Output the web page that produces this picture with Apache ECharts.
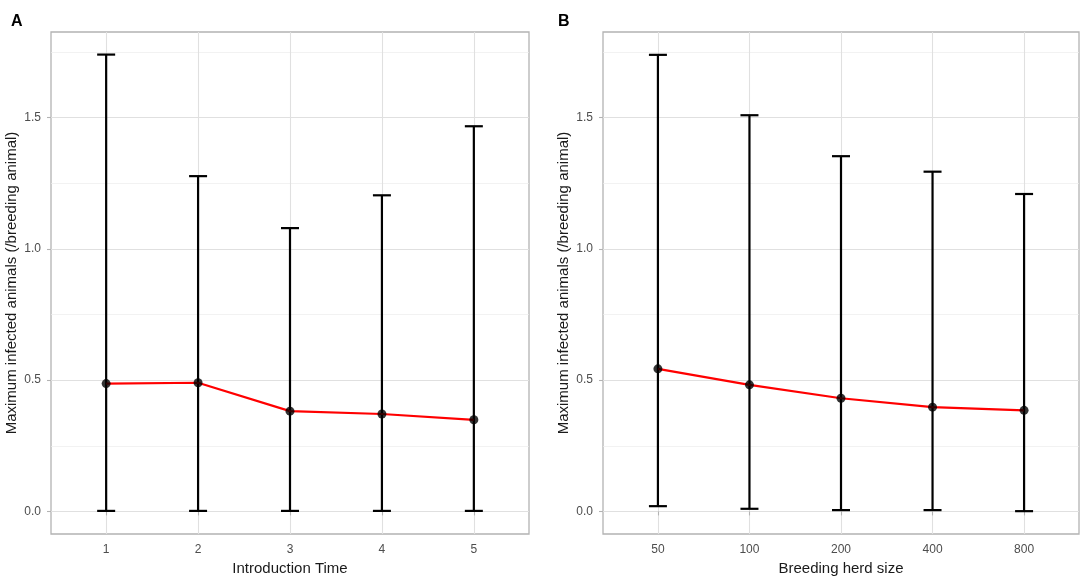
<!DOCTYPE html>
<html>
<head>
<meta charset="utf-8">
<script src="https://cdn.jsdelivr.net/npm/echarts@6/dist/echarts.min.js"></script>
<style>
html,body{margin:0;padding:0;background:#fff;}
#chart{width:1084px;height:582px;}
</style>
</head>
<body>
<div id="chart"></div>
<script>
// ---- data ----
const timeCats  = ['1', '2', '3', '4', '5'];
const timeMean  = [0.487, 0.490, 0.382, 0.371, 0.349];
const timeLower = [0.002, 0.002, 0.002, 0.002, 0.002];
const timeUpper = [1.740, 1.277, 1.079, 1.204, 1.467];

const herdCats  = ['50', '100', '200', '400', '800'];
const herdMean  = [0.543, 0.482, 0.431, 0.397, 0.385];
const herdLower = [0.020, 0.010, 0.005, 0.005, 0.001];
const herdUpper = [1.739, 1.509, 1.353, 1.294, 1.209];

const yMajorTicks = [0, 0.5, 1.0, 1.5];
const yMinorTicks = [0.25, 0.75, 1.25, 1.75];
const panelLabels = ['A', 'B'];
const xTitles = ['Introduction Time', 'Breeding herd size'];
const yTitle = 'Maximum infected animals (/breeding animal)';

// ---- styling ----
const FONT = 'Liberation Sans, Arial, sans-serif';
const Y_MIN = -0.086, Y_MAX = 1.826;
const X_MIN = 0.4, X_MAX = 5.6;
const gridColor = '#e0e0e0';
const borderColor = '#b3b3b3';

const grids = [
  {left: 51, top: 32, width: 478, height: 502},
  {left: 603, top: 32, width: 476, height: 502}
];

function xAxisFor(gi, cats) {
  return {
    type: 'value', gridIndex: gi, min: X_MIN, max: X_MAX, position: 'bottom',
    name: xTitles[gi], nameLocation: 'middle', nameGap: 27,
    nameTextStyle: {fontFamily: FONT, fontSize: 15, color: '#1a1a1a'},
    axisLine: {show: false},
    axisTick: {show: true, length: 4, customValues: cats.map((c, i) => i + 1),
               lineStyle: {color: borderColor, width: 1.1}},
    axisLabel: {show: true, margin: 10, customValues: cats.map((c, i) => i + 1),
                fontFamily: FONT, fontSize: 12, color: '#4d4d4d',
                formatter: v => cats[Math.round(v) - 1]},
    splitLine: {show: true, lineStyle: {color: gridColor, width: 1.1}}
  };
}
function yAxisMajor(gi) {
  return {
    type: 'value', gridIndex: gi, min: Y_MIN, max: Y_MAX, position: 'left',
    name: yTitle, nameLocation: 'middle', nameGap: 32, nameRotate: 90,
    nameTextStyle: {fontFamily: FONT, fontSize: 15, color: '#1a1a1a'},
    axisLine: {show: false},
    axisTick: {show: true, length: 4, customValues: yMajorTicks,
               lineStyle: {color: borderColor, width: 1.1}},
    axisLabel: {show: true, margin: 10, customValues: yMajorTicks,
                fontFamily: FONT, fontSize: 12, color: '#4d4d4d',
                formatter: v => v.toFixed(1)},
    splitLine: {show: true, lineStyle: {color: gridColor, width: 1.1}}
  };
}
function yAxisMinor(gi) {
  return {
    type: 'value', gridIndex: gi, min: Y_MIN, max: Y_MAX, position: 'left',
    axisLine: {show: false},
    axisTick: {show: false, customValues: yMinorTicks},
    axisLabel: {show: false, customValues: yMinorTicks},
    splitLine: {show: true, lineStyle: {color: '#ececec', width: 0.7}}
  };
}

function errorBarSeries(xi, yi, lower, upper) {
  return {
    type: 'custom', xAxisIndex: xi, yAxisIndex: yi, z: 2,
    data: lower.map((lo, i) => [i + 1, lo, upper[i]]),
    renderItem: function (params, api) {
      const x = api.value(0);
      const pLo = api.coord([x, api.value(1)]);
      const pHi = api.coord([x, api.value(2)]);
      const hw = 9;
      const st = {stroke: '#000', lineWidth: 2.2};
      return {type: 'group', children: [
        {type: 'line', shape: {x1: pLo[0], y1: pLo[1], x2: pHi[0], y2: pHi[1]}, style: st},
        {type: 'line', shape: {x1: pLo[0] - hw, y1: pLo[1], x2: pLo[0] + hw, y2: pLo[1]}, style: st},
        {type: 'line', shape: {x1: pHi[0] - hw, y1: pHi[1], x2: pHi[0] + hw, y2: pHi[1]}, style: st}
      ]};
    }
  };
}
function meanLine(xi, yi, mean) {
  return {
    type: 'line', xAxisIndex: xi, yAxisIndex: yi, z: 3,
    data: mean.map((v, i) => [i + 1, v]),
    showSymbol: false, symbol: 'none',
    lineStyle: {color: '#ff0000', width: 2.2}
  };
}
function meanPoints(xi, yi, mean) {
  return {
    type: 'scatter', xAxisIndex: xi, yAxisIndex: yi, z: 4,
    data: mean.map((v, i) => [i + 1, v]),
    symbol: 'circle', symbolSize: 9,
    itemStyle: {color: '#000'}
  };
}

const chart = echarts.init(document.getElementById('chart'), null, {renderer: 'canvas'});
chart.setOption({
  animation: false,
  backgroundColor: '#fff',
  title: [
    {text: panelLabels[0], left: 6, top: 9, textStyle: {fontFamily: FONT, fontSize: 16, fontWeight: 'bold', color: '#000'}},
    {text: panelLabels[1], left: 553, top: 9, textStyle: {fontFamily: FONT, fontSize: 16, fontWeight: 'bold', color: '#000'}}
  ],
  grid: grids.map(g => Object.assign({show: true, borderColor: borderColor, borderWidth: 1.3,
                                      backgroundColor: 'transparent', containLabel: false,
                                      outerBoundsMode: 'none'}, g)),
  xAxis: [xAxisFor(0, timeCats), xAxisFor(1, herdCats)],
  yAxis: [yAxisMinor(0), yAxisMajor(0), yAxisMinor(1), yAxisMajor(1)],
  series: [
    errorBarSeries(0, 1, timeLower, timeUpper),
    meanLine(0, 1, timeMean),
    meanPoints(0, 1, timeMean),
    errorBarSeries(1, 3, herdLower, herdUpper),
    meanLine(1, 3, herdMean),
    meanPoints(1, 3, herdMean)
  ]
});
</script>
</body>
</html>
